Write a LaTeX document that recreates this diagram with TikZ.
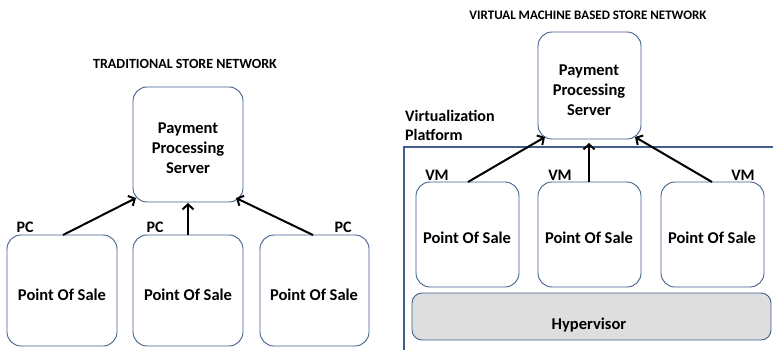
\documentclass[tikz,border=0pt]{standalone}
\usepackage{fontspec}
\setmainfont{Carlito}
\usetikzlibrary{arrows.meta}
\definecolor{boxblue}{RGB}{66,94,140}
\definecolor{hypgray}{RGB}{222,222,222}
\tikzset{
  rbox/.style={draw=boxblue, line width=0.9pt, rounded corners=14pt, fill=white},
  lbl/.style={font=\bfseries\fontsize{16.5}{20}\selectfont, align=center, inner sep=0pt},
  tag/.style={font=\bfseries\fontsize{16}{18}\selectfont, inner sep=0pt},
  ttl/.style={font=\bfseries\fontsize{13}{15}\selectfont, inner sep=0pt},
  link/.style={line width=2pt, -{Straight Barb[length=5pt,width=11pt,line width=2pt]}},
}
\begin{document}
\begin{tikzpicture}[x=1pt,y=-1pt]
\useasboundingbox (0,0) rectangle (773,349);
\clip (0,0) rectangle (773,349);

% ---------- traditional store network ----------
\node[ttl, font=\bfseries\fontsize{14}{16}\selectfont] (t1) at (185,64) {TRADITIONAL STORE NETWORK};
\draw[rbox] (133,87) rectangle (243,202);
\node[lbl] (srv1) at (188,148) {Payment\\Processing\\Server};
\coordinate (s1L) at (136,198);
\coordinate (s1M) at (188,203);
\coordinate (s1R) at (236,198);

\draw[rbox] (7,235) rectangle (117,346);
\draw[rbox] (133,235) rectangle (243,346);
\draw[rbox] (260,235) rectangle (369,346);
\node[lbl] (p1) at (62,295) {Point Of Sale};
\node[lbl] (p2) at (188,295) {Point Of Sale};
\node[lbl] (p3) at (314,295) {Point Of Sale};
\coordinate (p1t) at (63,235);
\coordinate (p2t) at (188,235);
\coordinate (p3t) at (313,235);
\node[tag] (pc1) at (25,227) {PC};
\node[tag] (pc2) at (155,227) {PC};
\node[tag] (pc3) at (343,227) {PC};

\draw[link] (p1t) -- (s1L);
\draw[link] (p2t) -- (s1M);
\draw[link] (p3t) -- (s1R);

% ---------- virtual machine based store network ----------
\node[ttl] (t2) at (588,15) {VIRTUAL MACHINE BASED STORE NETWORK};
\draw[draw=boxblue, line width=1.1pt] (404,360) -- (404,147) -- (790,147);
\node[font=\bfseries\fontsize{16}{19}\selectfont, align=left, anchor=north west, inner sep=0pt] (vp) at (405,110) {Virtualization\\Platform};

\draw[rbox] (538,32) rectangle (641,139);
\node[lbl] (srv2) at (589,90) {Payment\\Processing\\Server};
\coordinate (s2L) at (545,137);
\coordinate (s2M) at (589,143);
\coordinate (s2R) at (635,137);

\draw[rbox] (416,182) rectangle (519,287);
\draw[rbox] (538,182) rectangle (641,287);
\draw[rbox] (661,182) rectangle (764,287);
\node[lbl] (v1) at (467,238) {Point Of Sale};
\node[lbl] (v2) at (589,238) {Point Of Sale};
\node[lbl] (v3) at (712,238) {Point Of Sale};
\coordinate (v1t) at (468,182);
\coordinate (v2t) at (589,182);
\coordinate (v3t) at (712,182);
\node[tag] (vm1) at (437,175) {VM};
\node[tag] (vm2) at (560,175) {VM};
\node[tag] (vm3) at (743,175) {VM};

\draw[rbox, fill=hypgray, rounded corners=10pt] (412,293) rectangle (771,340);
\node[lbl] (hyp) at (589,325) {Hypervisor};

\draw[link] (v1t) -- (s2L);
\draw[link] (v2t) -- (s2M);
\draw[link] (v3t) -- (s2R);
\end{tikzpicture}
\end{document}
